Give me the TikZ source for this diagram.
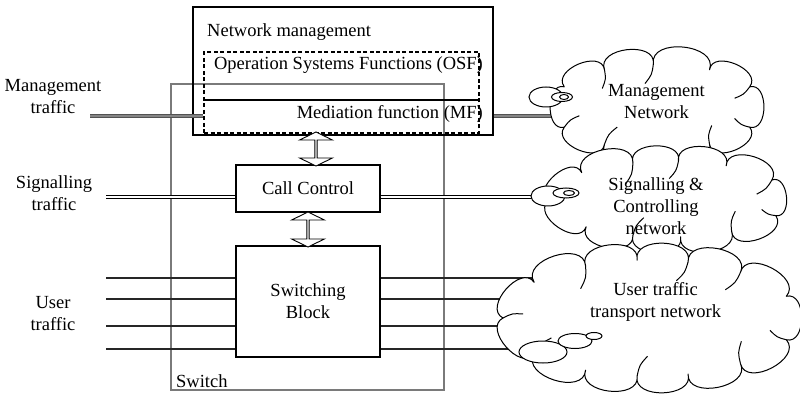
\documentclass[tikz,border=0pt]{standalone}
\usepackage{fontspec}
\setmainfont{Liberation Serif}
\usetikzlibrary{shapes.arrows,shapes.geometric}
% cloud: cx, cy, rx, ry, start angle, list of a/b/c (valley angles; c=1 adds an inner curl)
\newcommand\drawnetcloud[6]{%
  \gdef\cloudacc{}%
  \foreach \a/\b/\c in {#6}{%
    \pgfmathsetmacro\ax{#1+#3*cos(\a)}%
    \pgfmathsetmacro\ay{#2+#4*sin(\a)}%
    \pgfmathsetmacro\bx{#1+#3*cos(\b)}%
    \pgfmathsetmacro\by{#2+#4*sin(\b)}%
    \pgfmathsetmacro\ux{\bx-\ax}%
    \pgfmathsetmacro\uy{\by-\ay}%
    \pgfmathsetmacro\cax{\ax+0.47*\uy-0.12*\ux}%
    \pgfmathsetmacro\cay{\ay-0.47*\ux-0.12*\uy}%
    \pgfmathsetmacro\cbx{\bx+0.47*\uy+0.12*\ux}%
    \pgfmathsetmacro\cby{\by-0.47*\ux+0.12*\uy}%
    \xdef\cloudacc{\cloudacc .. controls (\cax,\cay) and (\cbx,\cby) .. (\bx,\by)}%
  }%
  \draw[cloudline, fill=white] ({#1+#3*cos(#5)},{#2+#4*sin(#5)}) \cloudacc -- cycle;
  \foreach \a/\b/\c in {#6}{%
    \ifnum\c=1
    \pgfmathsetmacro\ax{#1+#3*cos(\a)}%
    \pgfmathsetmacro\ay{#2+#4*sin(\a)}%
    \pgfmathsetmacro\bx{#1+#3*cos(\b)}%
    \pgfmathsetmacro\by{#2+#4*sin(\b)}%
    \pgfmathsetmacro\ux{\bx-\ax}%
    \pgfmathsetmacro\uy{\by-\ay}%
    \pgfmathsetmacro\dx{-0.47*\uy-0.12*\ux}%
    \pgfmathsetmacro\dy{0.47*\ux-0.12*\uy}%
    \draw[cloudline] (\bx,\by) .. controls ({\bx+0.45*\dx},{\by+0.45*\dy})
       .. ({\bx+0.8*\dx-0.12*\ux},{\by+0.8*\dy-0.12*\uy});
    \fi
  }}
\begin{document}
\begin{tikzpicture}[x=1pt,y=-1pt,
  every node/.style={font=\fontsize{18.5}{22}\selectfont, inner sep=0pt},
  blk/.style={draw, line width=1.1pt},
  nmbox/.style={draw, line width=1.6pt},
  dashbox/.style={draw, line width=1.4pt, dash pattern=on 4pt off 2.5pt},
  swbox/.style={draw=black!52, line width=1.6pt},
  usrline/.style={draw=black!85, line width=2.9pt},
  sigline/.style={draw=black, line width=0.9pt, double=white, double distance=1.6pt},
  mgmline/.style={draw=black!68, line width=1.3pt, double=black!48, double distance=1.3pt},
  blockarrow/.style={double arrow, draw, fill=white, line width=0.9pt, rotate=90,
     minimum width=33pt, double arrow head extend=6.5pt, double arrow tip angle=128},
  cloudline/.style={draw, line width=1pt, line join=round},
  bubble/.style={draw, fill=white, line width=1pt}
  ]
\useasboundingbox (0,0) rectangle (800,395);

% switch boundary
\node[swbox, minimum width=273pt, minimum height=306pt] (sw) at (307.5,237) {};
\node[anchor=base west] (swt) at (176,387) {Switch};

% network management
\node[nmbox, minimum width=300pt, minimum height=128pt] (nm) at (343,71) {};
\node[anchor=base west] (nmt) at (207,37) {Network management};
\node[dashbox, minimum width=275pt, minimum height=81pt] (osf) at (341.5,92.5) {};
\draw[line width=1.3pt] (osf.west |- 0,100) coordinate (mfl) -- (osf.east |- 0,100) coordinate (mfr);
\node[anchor=base] (osft) at (348.5,70) {Operation Systems Functions (OSF)};
\node[anchor=base east] (mft) at (483,119) {Mediation function (MF)};

% call control and switching block
\node[blk, minimum width=144pt, minimum height=47pt] (cc) at (308,188.5) {Call Control};
\node[blk, minimum width=144pt, minimum height=111pt, align=center] (sb) at (308,301.5) {Switching\\Block};

% block arrows
\node[blockarrow, minimum height=34pt] (a1) at (316,149) {};
\node[blockarrow, minimum height=35pt] (a2) at (308,229.5) {};

% left labels
\node[align=center] (lm) at (53,97) {Management\\traffic};
\node[align=center] (ls) at (54,193.5) {Signalling\\traffic};
\node[align=center] (lu) at (53,314) {User\\traffic};

% management traffic
\coordinate (m0) at (90,116);
\coordinate (m1) at (600,116);
\draw[mgmline] (m0) -- (m0 -| osf.west);
\draw[mgmline] (m1 -| nm.east) -- (m1);

% signalling traffic
\coordinate (s0) at (106,197);
\coordinate (s1) at (600,197);
\draw[sigline] (s0) -- (s0 -| cc.west);
\draw[sigline] (s0 -| cc.east) -- (s1);

% user traffic
\foreach \i/\y in {1/278,2/299,3/326,4/349}{
  \coordinate (ul\i) at (106,\y);
  \coordinate (ur\i) at (610,\y);
  \draw[usrline] (ul\i) -- (ul\i -| sb.west);
  \draw[usrline] (ul\i -| sb.east) -- (ur\i);
}

% management network cloud
\coordinate (mc) at (657,107);
\drawnetcloud{657}{107}{105}{43}{28}{28/60/1,60/92/0,92/120/1,120/152/1,152/208/0,208/240/1,240/268/1,268/300/0,300/332/1,332/388/1}
\node[align=center] (mct) at (656.5,101.5) {Management\\Network};
\node[bubble, ellipse, minimum width=34pt, minimum height=20pt] (mb1) at (546,97) {};
\node[bubble, ellipse, minimum width=21pt, minimum height=9pt] (mb2) at (562,97) {};
\node[bubble, ellipse, minimum width=9pt, minimum height=5pt] (mb3) at (564,97) {};

% signalling network cloud
\coordinate (scn) at (668,199);
\drawnetcloud{668}{199}{120}{38}{26}{26/58/1,58/84/0,84/107/1,107/133/0,133/177/1,177/224/0,224/253/1,253/275/1,275/299/0,299/330/1,330/386/1}
\node[align=center] (sct) at (656,206.5) {Signalling \&\\Controlling\\network};
\node[bubble, ellipse, minimum width=34pt, minimum height=20pt] (sb1) at (548,196) {};
\node[bubble, ellipse, minimum width=26pt, minimum height=10pt] (sb2) at (566,193) {};
\node[bubble, ellipse, minimum width=11pt, minimum height=5pt] (sb3) at (569,193) {};

% user traffic network cloud
\coordinate (uc) at (650,318);
\drawnetcloud{650}{318}{147}{58}{22}{22/52/1,52/75/0,75/95/1,95/116/0,116/142/1,142/180/1,180/218/0,218/244/1,244/265/0,265/285/1,285/308/1,308/338/0,338/382/1}
\node[align=center] (uct) at (655.5,301.5) {User traffic\\transport network};
\node[bubble, ellipse, minimum width=48pt, minimum height=22pt] (ub1) at (543,352) {};
\node[bubble, ellipse, minimum width=34pt, minimum height=15pt] (ub2) at (575,341) {};
\node[bubble, ellipse, minimum width=16pt, minimum height=7pt] (ub3) at (594,336) {};
\end{tikzpicture}
\end{document}
